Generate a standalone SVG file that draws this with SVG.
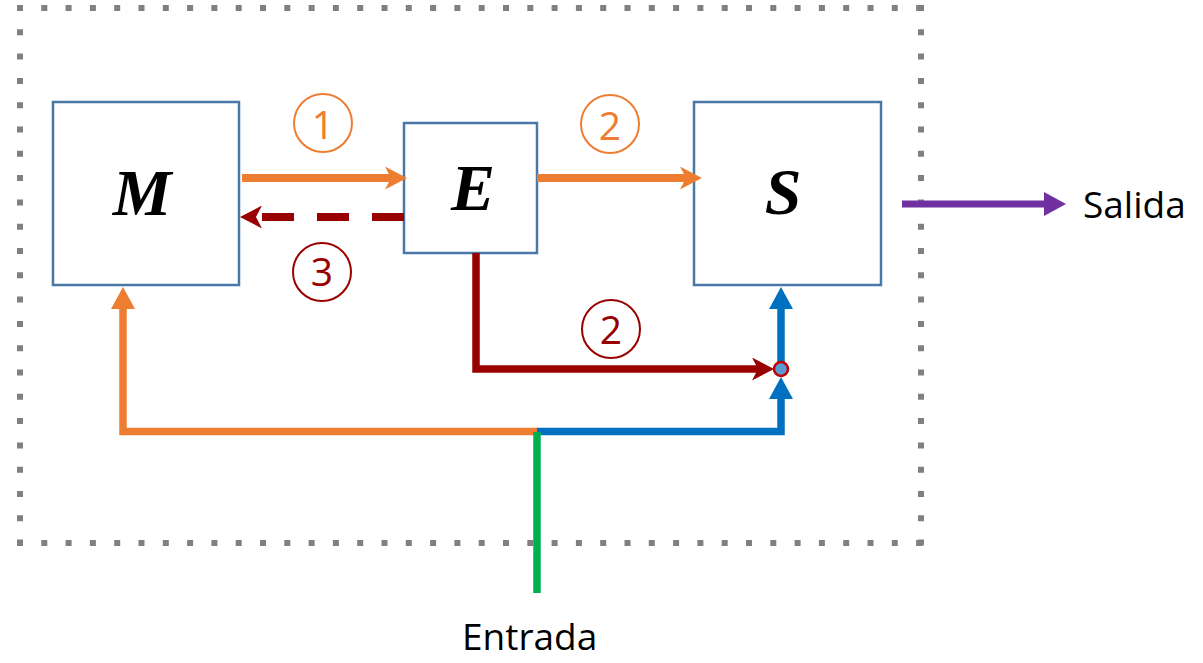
<svg xmlns="http://www.w3.org/2000/svg" width="1203" height="663" viewBox="0 0 1203 663">
<style>
.dot{stroke:#808080;stroke-width:6;stroke-dasharray:6 18.3;fill:none}
.box{fill:#ffffff;stroke:#4a78a6;stroke-width:2.5}
.sym{font-family:"Liberation Serif","Times New Roman",serif;font-weight:bold;font-style:italic;font-size:66px;fill:#000;text-anchor:middle}
.lbl{font-family:"Open Sans","Noto Sans",sans-serif;font-size:37px;fill:#000}
.num{font-family:"Open Sans","Noto Sans",sans-serif;font-size:39px;text-anchor:middle}
.c{fill:none;stroke-width:2}
.ln{fill:none;stroke-linejoin:miter;stroke-linecap:butt}
</style>
<defs>
<marker id="nOr" viewBox="0 0 22 23" markerWidth="22" markerHeight="23" refX="8" refY="11.5" orient="auto" markerUnits="userSpaceOnUse"><path d="M0,0 L22,11.5 L0,23 L6,11.5 Z" fill="#ed7d31"/></marker>
<marker id="nRd" viewBox="0 0 22 23" markerWidth="22" markerHeight="23" refX="8" refY="11.5" orient="auto" markerUnits="userSpaceOnUse"><path d="M0,0 L22,11.5 L0,23 L6,11.5 Z" fill="#990000"/></marker>
<marker id="tOr" viewBox="0 0 22 24" markerWidth="22" markerHeight="24" refX="4" refY="12" orient="auto" markerUnits="userSpaceOnUse"><path d="M0,0 L22,12 L0,24 Z" fill="#ed7d31"/></marker>
<marker id="tBl" viewBox="0 0 22 24" markerWidth="22" markerHeight="24" refX="4" refY="12" orient="auto" markerUnits="userSpaceOnUse"><path d="M0,0 L22,12 L0,24 Z" fill="#0070c0"/></marker>
<marker id="tPu" viewBox="0 0 22 24" markerWidth="22" markerHeight="24" refX="4" refY="12" orient="auto" markerUnits="userSpaceOnUse"><path d="M0,0 L22,12 L0,24 Z" fill="#7030a0"/></marker>
</defs>
<rect width="1203" height="663" fill="#ffffff"/>
<g id="border">
<line class="dot" x1="17" y1="8" x2="924" y2="8"/>
<line class="dot" x1="17" y1="543" x2="924" y2="543"/>
<line class="dot" x1="20" y1="5" x2="20" y2="546"/>
<line class="dot" x1="921" y1="5" x2="921" y2="546"/>
</g>
<g id="node-M"><rect class="box" x="53" y="102" width="186" height="183"/><text class="sym" x="142" y="215">M</text></g>
<g id="node-E"><rect class="box" x="404" y="123" width="133" height="130"/><text class="sym" x="473" y="210">E</text></g>
<g id="node-S"><rect class="box" x="694" y="102" width="187" height="183"/><text class="sym" x="783" y="214">S</text></g>
<g id="connectors">
<path class="ln" d="M242,178 H393" stroke="#ed7d31" stroke-width="8" marker-end="url(#nOr)"/>
<path class="ln" d="M537,178 H688" stroke="#ed7d31" stroke-width="8" marker-end="url(#nOr)"/>
<path class="ln" d="M404,217 H254" stroke="#990000" stroke-width="8" stroke-dasharray="32 23" marker-end="url(#nRd)"/>
<path class="ln" d="M476,253 V369 H760" stroke="#990000" stroke-width="7.5" marker-end="url(#nRd)"/>
<path class="ln" d="M537,431.5 H123 V305" stroke="#ed7d31" stroke-width="7.5" marker-end="url(#tOr)"/>
<path class="ln" d="M537,431.5 H781 V395" stroke="#0070c0" stroke-width="7.5" marker-end="url(#tBl)"/>
<path class="ln" d="M781,362 V305" stroke="#0070c0" stroke-width="7.5" marker-end="url(#tBl)"/>
<circle cx="781" cy="369" r="7" fill="#5b9bd5" stroke="#c00000" stroke-width="2.5"/>
<path class="ln" d="M902,204 H1048" stroke="#7030a0" stroke-width="7" marker-end="url(#tPu)"/>
<path class="ln" d="M537,432 V593" stroke="#00b050" stroke-width="7.5"/>
</g>
<g id="step1"><circle class="c" cx="323" cy="123" r="29" stroke="#ed7d31"/><text class="num" x="323" y="139" fill="#ed7d31">1</text></g>
<g id="step2a"><circle class="c" cx="610" cy="124" r="29" stroke="#ed7d31"/><text class="num" x="610" y="140" fill="#ed7d31">2</text></g>
<g id="step3"><circle class="c" cx="322" cy="272" r="29" stroke="#990000"/><text class="num" x="322" y="286" fill="#990000">3</text></g>
<g id="step2b"><circle class="c" cx="611" cy="329" r="29" stroke="#990000"/><text class="num" x="611" y="344" fill="#990000">2</text></g>
<g id="salida"><text class="lbl" x="1083" y="218">Salida</text></g>
<g id="entrada"><text class="lbl" x="462" y="650">Entrada</text></g>
</svg>
